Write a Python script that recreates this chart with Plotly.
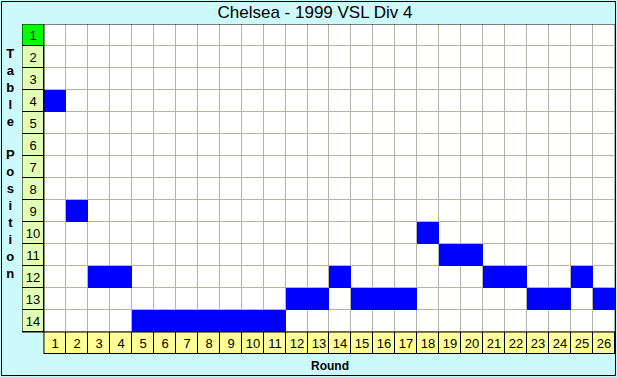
import numpy as np
import plotly.graph_objects as go

# ---- data ----
title_text = "Chelsea - 1999 VSL Div 4"
rounds = list(range(1, 27))
positions = [4, 9, 12, 12, 14, 14, 14, 14, 14, 14, 14, 13, 13, 12, 13, 13, 13, 10, 11, 11, 12, 12, 13, 13, 12, 13]
table_positions = list(range(1, 15))
y_title = "Table Position"
x_title = "Round"

# ---- build grids ----
n_rows = len(table_positions) + 1   # +1 for round label row
n_cols = len(rounds) + 1            # +1 for position label column
xs = [0] + rounds
ys = table_positions + [len(table_positions) + 1]

z_under = np.full((n_rows, n_cols), np.nan)
z_cells = np.full((n_rows, n_cols), np.nan)
txt = [["" for _ in range(n_cols)] for _ in range(n_rows)]
for r in range(n_rows):
    for c in range(n_cols):
        label_row = r == n_rows - 1
        label_col = c == 0
        if label_row and label_col:
            continue
        if not label_row and not label_col:
            z_under[r, c] = 0
            z_cells[r, c] = 0
        else:
            z_under[r, c] = 1
            if label_col:
                z_cells[r, c] = 2 / 3 if table_positions[r] == 1 else 1 / 3
                txt[r][c] = str(table_positions[r])
            else:
                z_cells[r, c] = 1
                txt[r][c] = str(rounds[c - 1])

z_blue = np.full((n_rows, n_cols), np.nan)
for rd, pos in zip(rounds, positions):
    z_blue[pos - 1, rd] = 1

fig = go.Figure()
fig.add_trace(go.Heatmap(
    x=xs, y=ys, z=z_under, zmin=0, zmax=1,
    colorscale=[[0, "#B4B4A4"], [1, "#000000"]],
    showscale=False, hoverinfo="skip"))
fig.add_trace(go.Heatmap(
    x=xs, y=ys, z=z_cells, zmin=0, zmax=1, xgap=1, ygap=1,
    colorscale=[[0, "#FFFFFF"], [1 / 3, "#E2FFB6"], [2 / 3, "#00FF00"], [1, "#FFFF99"]],
    text=txt, texttemplate="%{text}",
    textfont=dict(family="Arial", size=13, color="#000000"),
    showscale=False, hoverinfo="skip"))
fig.add_trace(go.Heatmap(
    x=xs, y=ys, z=z_blue, zmin=0, zmax=1,
    colorscale=[[0, "#0000FF"], [1, "#0000FF"]],
    showscale=False, hoverinfo="skip"))

# black separators
line = dict(color="#000000", width=1)
fig.add_shape(type="line", xref="x", yref="y", x0=-0.5, x1=26.5, y0=0.5, y1=0.5, line=line)
fig.add_shape(type="line", xref="x", yref="y", x0=0.5, x1=0.5, y0=0.5, y1=15.5, line=line)
fig.add_shape(type="line", xref="x", yref="y", x0=-0.5, x1=26.5, y0=14.5, y1=14.5, line=line)
fig.add_shape(type="line", xref="x", yref="y", x0=-0.5, x1=-0.5, y0=0.5, y1=14.5, line=line)
fig.add_shape(type="line", xref="x", yref="y", x0=0.5, x1=26.5, y0=15.5, y1=15.5, line=line)

# outer frame
W, H = 617, 377
L, R, T, B = 22, 2, 24, 23
pw, ph = W - L - R, H - T - B
def px(x): return (x - L) / pw
def py(y): return (H - B - y) / ph
fig.add_shape(type="rect", xref="paper", yref="paper",
              x0=px(1.5), x1=px(615.5), y0=py(375.5), y1=py(1.5),
              line=dict(color="#000000", width=1))

ytxt = "<b>" + "<br>".join(ch if ch != " " else "&nbsp;" for ch in y_title) + "</b>"
fig.add_annotation(xref="paper", yref="paper", x=px(10), y=py(163),
                   text=ytxt,
                   showarrow=False, font=dict(family="Arial", size=13, color="#000000"),
                   align="center", xanchor="center", yanchor="middle")
fig.add_annotation(xref="paper", yref="paper", x=px(330), y=py(366),
                   text="<b>" + x_title + "</b>", showarrow=False,
                   font=dict(family="Arial", size=12, color="#000000"),
                   xanchor="center", yanchor="middle")

fig.update_layout(
    width=W, height=H,
    margin=dict(l=L, r=R, t=T, b=B, pad=0),
    paper_bgcolor="#CCFAFA", plot_bgcolor="#CCFAFA",
    title=dict(text=title_text, x=px(315), xref="paper", xanchor="center",
               y=1 - 12 / H, yref="container", yanchor="middle",
               font=dict(family="Arial", size=17, color="#000000")),
    xaxis=dict(range=[-0.5, 26.5], visible=False, fixedrange=True),
    yaxis=dict(range=[15.5, 0.5], visible=False, fixedrange=True),
    showlegend=False,
)

fig.write_html("out.html", post_script="document.body.style.margin='0';document.body.style.overflow='hidden';",
               config={"displayModeBar": False})
